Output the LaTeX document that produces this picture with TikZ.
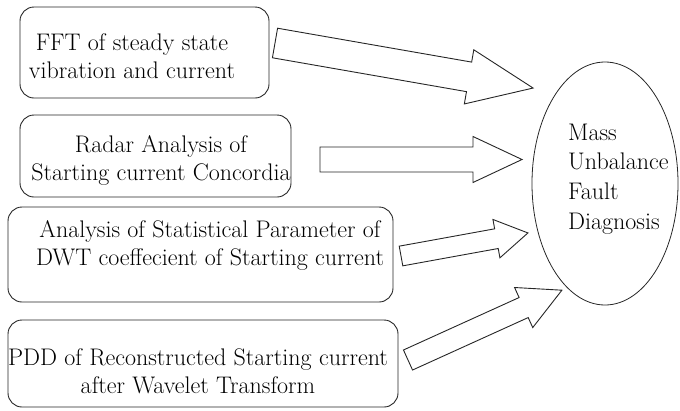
\documentclass[tikz,border=0pt]{standalone}
\usetikzlibrary{shapes.geometric}
\tikzset{
  boxsty/.style={draw=black!85, line width=0.9pt, rounded corners=14pt, inner sep=0pt},
  lbl/.style={align=center, inner sep=0pt, font=\rmfamily\fontsize{24}{28}\selectfont},
  ellsty/.style={draw=black!85, line width=0.8pt, ellipse, inner sep=0pt},
  arrowsty/.style={draw=black!85, line width=0.9pt, fill=white, line join=miter},
}
\newcommand\blockarr[6]{%
  \begin{scope}[shift={#1}, rotate=#2]
    \draw[arrowsty] (0,-#4/2) -- ({#3-#6},-#4/2) -- ({#3-#6},-#5/2) -- (#3,0)
      -- ({#3-#6},#5/2) -- ({#3-#6},#4/2) -- (0,#4/2) -- cycle;
  \end{scope}}
\begin{document}
\begin{tikzpicture}[x=1pt,y=-1pt]
\useasboundingbox (0,0) rectangle (680,410);
% boxes
\node[boxsty, minimum width=249, minimum height=91] (b1) at (144.5,52.5) {};
\node[boxsty, minimum width=271, minimum height=82] (b2) at (155.5,156) {};
\node[boxsty, minimum width=385, minimum height=95] (b3) at (200.5,254.5) {};
\node[boxsty, minimum width=390, minimum height=87] (b4) at (203,363.5) {};
\node[lbl] (t1) at (132,56) {FFT of steady state\\vibration and current};
\node[lbl] (t2) at (161,160.5) {Radar Analysis of\\Starting current Concordia};
\node[lbl] (t3) at (210,245) {Analysis of Statistical Parameter of\\DWT coeffecient of Starting current};
\node[lbl] (t4) at (198,371) {PDD of Reconstructed Starting current\\after Wavelet Transform};
% ellipse
\node[ellsty, minimum width=146, minimum height=243] (e) at (605,183.5) {};
\node[align=left, inner sep=0pt, anchor=west, font=\rmfamily\fontsize{24}{29.7}\selectfont] (et) at (568,179) {Mass\\Unbalance\\Fault\\Diagnosis};
% arrow end points
\coordinate (a1t) at (275,43);  \coordinate (a1h) at (533,88);
\coordinate (a2t) at (320,159.5); \coordinate (a2h) at (522,160);
\coordinate (a3t) at (401,256); \coordinate (a3h) at (528,233);
\coordinate (a4t) at (408,360); \coordinate (a4h) at (562,290);
% block arrows
\blockarr{(a1t)}{-9.9}{262}{30}{55}{65}
\blockarr{(a2t)}{0}{202}{25}{46}{49}
\blockarr{(a3t)}{10.3}{129}{20}{39}{32}
\blockarr{(a4t)}{24.4}{169}{22}{44}{42}
\end{tikzpicture}
\end{document}
